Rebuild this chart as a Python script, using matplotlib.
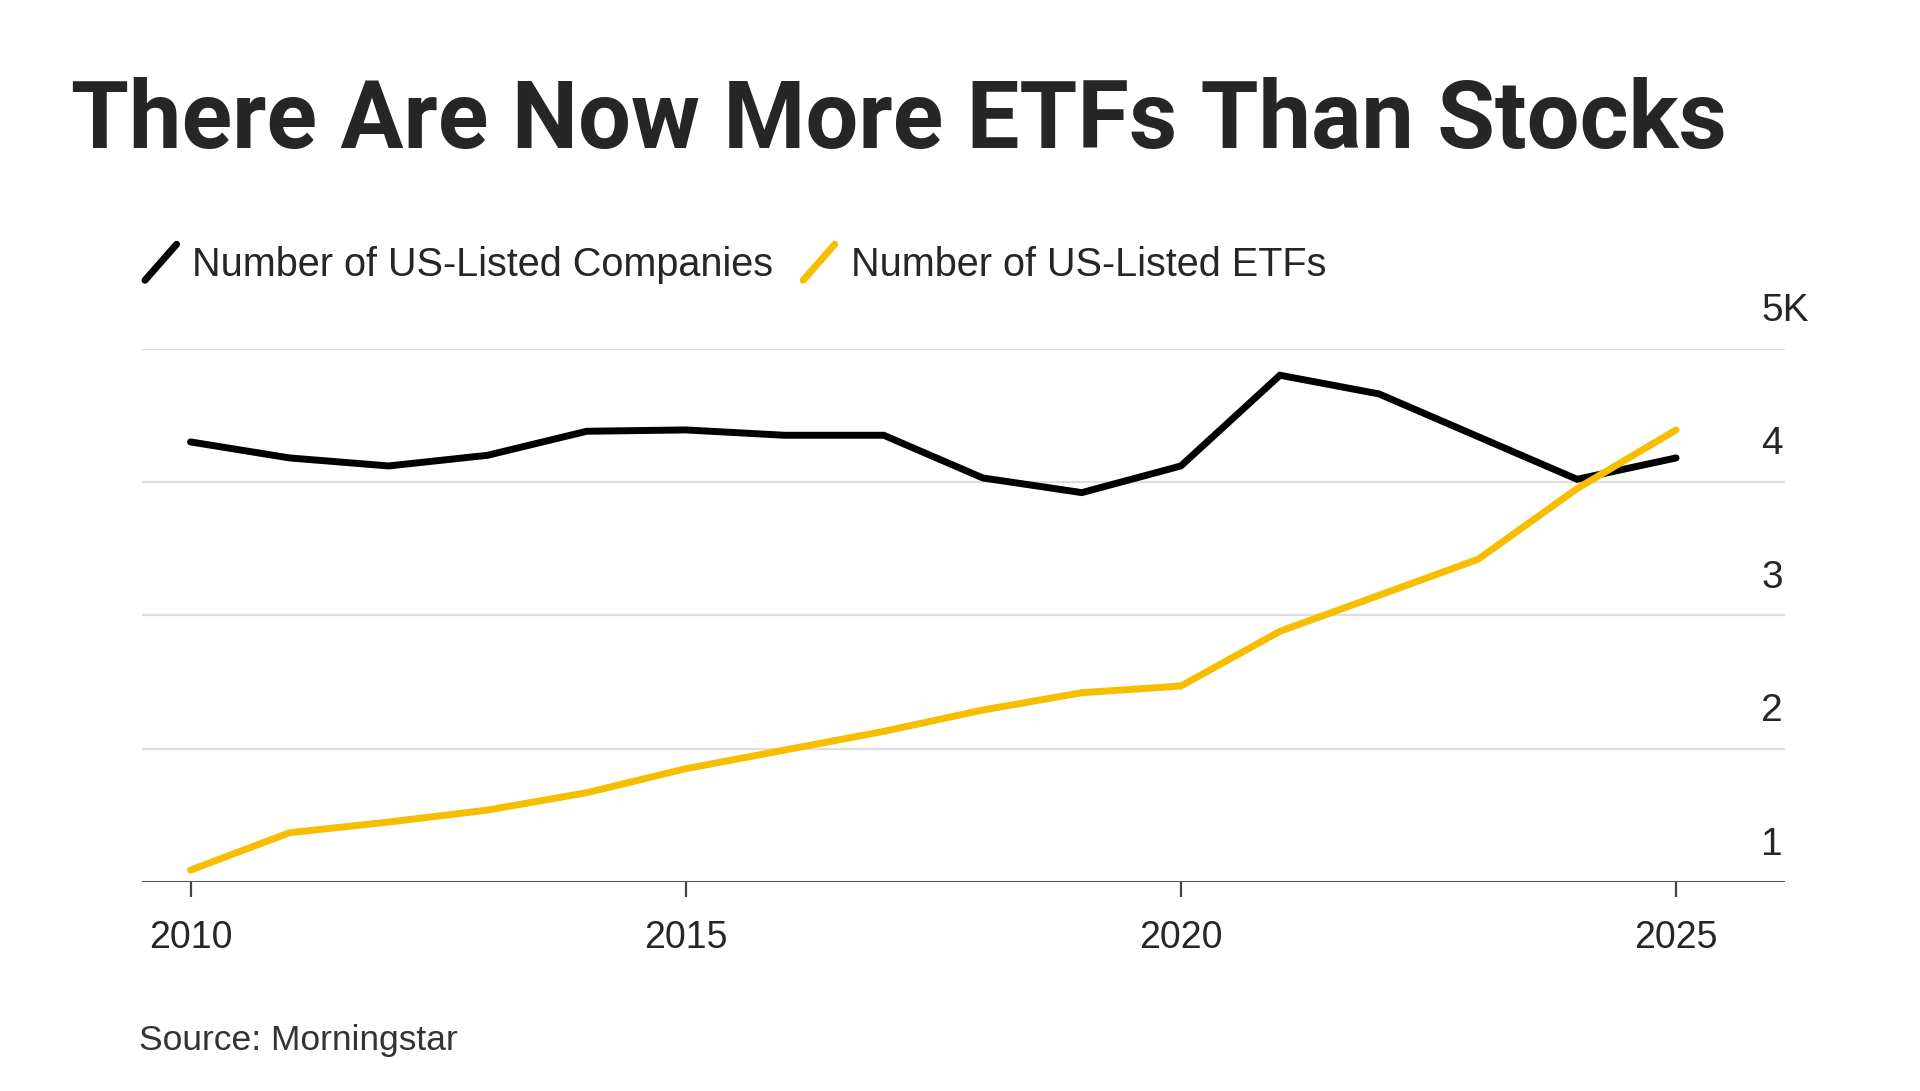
import matplotlib.pyplot as plt
from matplotlib.lines import Line2D
from matplotlib.legend_handler import HandlerBase
import matplotlib.transforms as mtransforms

# data (thousands)
years = list(range(2010, 2026))
companies = [4.30, 4.18, 4.12, 4.20, 4.38, 4.39, 4.35, 4.35,
             4.03, 3.92, 4.12, 4.80, 4.66, 4.34, 4.02, 4.18]
etfs = [1.09, 1.37, 1.45, 1.54, 1.67, 1.85, 1.99, 2.13,
        2.29, 2.42, 2.47, 2.88, 3.15, 3.42, 3.95, 4.39]
x_ticks = [2010, 2015, 2020, 2025]
y_ticks = [1, 2, 3, 4, 5]
y_labels = ["1", "2", "3", "4", "5K"]

BLACK = "#000000"
YELLOW = "#F7BE00"
TEXT = "#262626"


class SlashHandler(HandlerBase):
    # legend key drawn as a short diagonal stroke
    def create_artists(self, legend, orig_handle, xdescent, ydescent,
                       width, height, fontsize, trans):
        ln = Line2D([-xdescent, -xdescent + width],
                    [-ydescent - 0.15 * height, -ydescent + 1.15 * height],
                    color=orig_handle.get_color(), lw=orig_handle.get_linewidth(),
                    solid_capstyle="round", transform=trans)
        return [ln]


fig = plt.figure(figsize=(19.2, 10.91), dpi=100)
ax = fig.add_axes([0.0737, 0.1915, 0.856, 0.489])

l1, = ax.plot(years, companies, color=BLACK, lw=5, solid_capstyle="round",
              solid_joinstyle="miter", zorder=3)
l2, = ax.plot(years, etfs, color=YELLOW, lw=5, solid_capstyle="round",
              solid_joinstyle="miter", zorder=3)

ax.set_xlim(2009.505, 2026.1)
ax.set_ylim(1, 5)

# gridlines
for v in y_ticks[1:]:
    ax.axhline(v, color="#DEDEDE", lw=1.6, zorder=1)
ax.axhline(1, color="#555555", lw=2.2, zorder=2)

for s in ax.spines.values():
    s.set_visible(False)

ax.set_yticks([])
ax.set_xticks(x_ticks)
ax.set_xticklabels([str(t) for t in x_ticks], fontsize=27, color=TEXT,
                   family="Liberation Sans")
ax.tick_params(axis="x", length=11, width=1.6, color="#444444", pad=16)

# y labels sit above the gridlines at the right
trans = mtransforms.blended_transform_factory(ax.transAxes, ax.transData)
for v, lab in zip(y_ticks, y_labels):
    ax.annotate(lab, xy=(1, v), xycoords=trans, xytext=(-17, 27),
                textcoords="offset points", ha="left", va="center",
                fontsize=28, color=TEXT, family="Liberation Sans")

fig.text(0.037, 0.8643, "There Are Now More ETFs Than Stocks", fontsize=67.5,
         fontweight="bold", family="Roboto", color=TEXT, va="baseline")

leg = fig.legend([l1, l2], ["Number of US-Listed Companies", "Number of US-Listed ETFs"],
                 handler_map={Line2D: SlashHandler()}, loc="center left",
                 bbox_to_anchor=(0.0755, 0.757), ncol=2, frameon=False,
                 prop={"family": "Liberation Sans", "size": 28.5},
                 handlelength=0.8, handletextpad=0.4, columnspacing=0.75,
                 borderpad=0, borderaxespad=0)
for t in leg.get_texts():
    t.set_color(TEXT)

fig.text(0.0724, 0.0467, "Source: Morningstar", fontsize=25.5, color="#333333",
         family="Liberation Sans", va="center")

fig.savefig("out.png", dpi=100, facecolor="white")
